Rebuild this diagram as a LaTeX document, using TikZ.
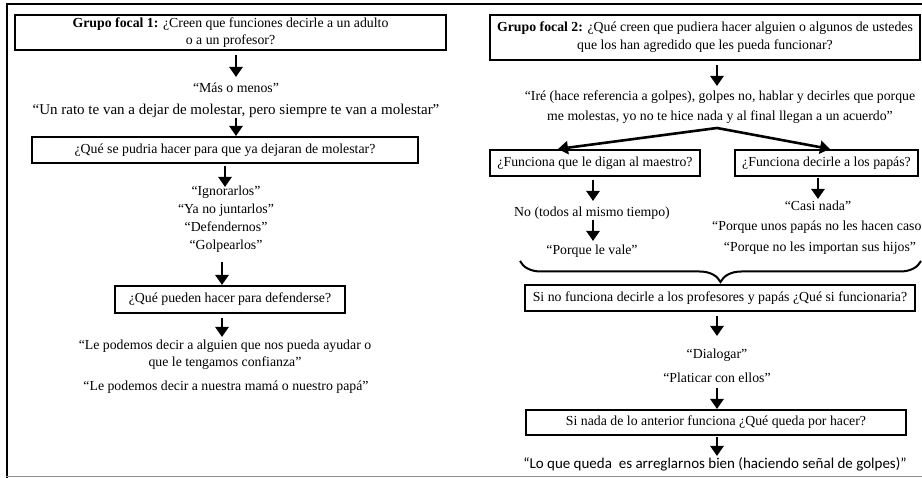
\documentclass[tikz,border=0pt]{standalone}
\usepackage{fontspec}
\setmainfont{Liberation Serif}
\newfontfamily\calib{Carlito}
\usetikzlibrary{arrows.meta,decorations.pathreplacing}
\begin{document}
\begin{tikzpicture}[x=1pt,y=-1pt,
  font=\fontsize{13.8}{16.5}\selectfont,
  box/.style={draw, line width=1.4pt, minimum height=26pt, inner sep=0pt, align=center},
  txt/.style={inner sep=0pt, align=center},
  arr/.style={line width=2.6pt, -{Triangle[length=10pt,width=13pt]}},
  frame/.style={line width=2.4pt},
  bracestyle/.style={line width=2pt, decorate, decoration={brace, mirror, amplitude=21pt}}]
\useasboundingbox (0,0) rectangle (922,478);
% frame
\draw[frame] (7,480) -- (7,4) -- (930,4);
\draw[line width=1.6pt, black!45] (6,476.5) -- (930,476.5);
% left panel
\node[box, minimum width=431pt, minimum height=35pt, font=\fontsize{13.8}{17}\selectfont] (b1) at (230.5,32.5)
  {\textbf{Grupo focal 1:} ¿Creen que funciones decirle a un adulto\\o a un profesor?};
\node[txt] (t1) at (236,88) {“Más o menos”};
\node[txt, font=\fontsize{15}{17}\selectfont] (t2) at (236,111) {“Un rato te van a dejar de molestar, pero siempre te van a molestar”};
\node[box, minimum width=386pt] (b2) at (225,150) {¿Qué se pudria hacer para que ya dejaran de molestar?};
\node[txt, font=\fontsize{13.8}{18}\selectfont] (t3) at (226,219)
  {“Ignorarlos”\\“Ya no juntarlos”\\“Defendernos”\\“Golpearlos”};
\node[box, minimum width=230pt, minimum height=27pt] (b3) at (230,299.5) {¿Qué pueden hacer para defenderse?};
\node[txt, font=\fontsize{13.8}{17}\selectfont] (t4) at (225,354.5)
  {“Le podemos decir a alguien que nos pueda ayudar o\\que le tengamos confianza”};
\node[txt] (t5) at (226,387) {“Le podemos decir a nuestra mamá o nuestro papá”};
\coordinate (a1s) at (236,55);  \coordinate (a1e) at (236,77);
\coordinate (a2s) at (236,118); \coordinate (a2e) at (236,136);
\coordinate (a3s) at (225,166); \coordinate (a3e) at (225,187);
\coordinate (a4s) at (222,262); \coordinate (a4e) at (222,285);
\coordinate (a5s) at (222,318); \coordinate (a5e) at (222,337);
\draw[arr] (a1s) -- (a1e);
\draw[arr] (a2s) -- (a2e);
\draw[arr] (a3s) -- (a3e);
\draw[arr] (a4s) -- (a4e);
\draw[arr] (a5s) -- (a5e);
% right panel
\node[box, minimum width=430pt, minimum height=45pt, font=\fontsize{13.8}{18}\selectfont] (b4) at (705,37.5)
  {\textbf{Grupo focal 2:} ¿Qué creen que pudiera hacer alguien o algunos de ustedes\\que los han agredido que les pueda funcionar?};
\node[txt, font=\fontsize{13.8}{20}\selectfont] (t6) at (720,107)
  {“Iré (hace referencia a golpes), golpes no, hablar y decirles que porque\\me molestas, yo no te hice nada y al final llegan a un acuerdo”};
\coordinate (fork) at (717,128);
\node[box, minimum width=210pt] (b5) at (595,163) {¿Funciona que le digan al maestro?};
\node[box, minimum width=183pt] (b6) at (826.5,163) {¿Funciona decirle a los papás?};
\node[txt] (t7) at (592,213) {No (todos al mismo tiempo)};
\node[txt] (t8) at (592,251) {“Porque le vale”};
\node[txt] (t9) at (818,206) {“Casi nada”};
\node[txt, anchor=west] (t10) at (712,227) {“Porque unos papás no les hacen caso”};
\node[txt] (t11) at (820,248) {“Porque no les importan sus hijos”};
\coordinate (brl) at (520,261);
\coordinate (brr) at (921,261);
\draw[bracestyle] (brl) -- (brr);
\node[box, minimum width=390pt] (b7) at (720,298) {Si no funciona decirle a los profesores y papás ¿Qué si funcionaria?};
\node[txt] (t12) at (717,355) {“Dialogar”};
\node[txt] (t13) at (717,378) {“Platicar con ellos”};
\node[box, minimum width=380pt, minimum height=25pt] (b8) at (716,422.5) {Si nada de lo anterior funciona ¿Qué queda por hacer?};
\node[txt, font=\calib\fontsize{15}{17}\selectfont] (t14) at (715,464)
  {“Lo que queda\ \ es arreglarnos bien (haciendo señal de golpes)”};
\coordinate (a6s) at (717,65);  \coordinate (a6e) at (717,86);
\coordinate (dl) at (558,149);  \coordinate (dr) at (830,149);
\coordinate (a7s) at (593,180); \coordinate (a7e) at (593,201);
\coordinate (a8s) at (593,220); \coordinate (a8e) at (593,241);
\coordinate (a9s) at (818,178); \coordinate (a9e) at (818,199);
\coordinate (a10s) at (717,316); \coordinate (a10e) at (717,336);
\coordinate (a11s) at (717,388); \coordinate (a11e) at (717,409);
\coordinate (a12s) at (717,437); \coordinate (a12e) at (717,456);
\draw[arr] (a6s) -- (a6e);
\draw[arr] (fork) -- (dl);
\draw[arr] (fork) -- (dr);
\draw[arr] (a7s) -- (a7e);
\draw[arr] (a8s) -- (a8e);
\draw[arr] (a9s) -- (a9e);
\draw[arr] (a10s) -- (a10e);
\draw[arr] (a11s) -- (a11e);
\draw[arr] (a12s) -- (a12e);
\end{tikzpicture}
\end{document}
